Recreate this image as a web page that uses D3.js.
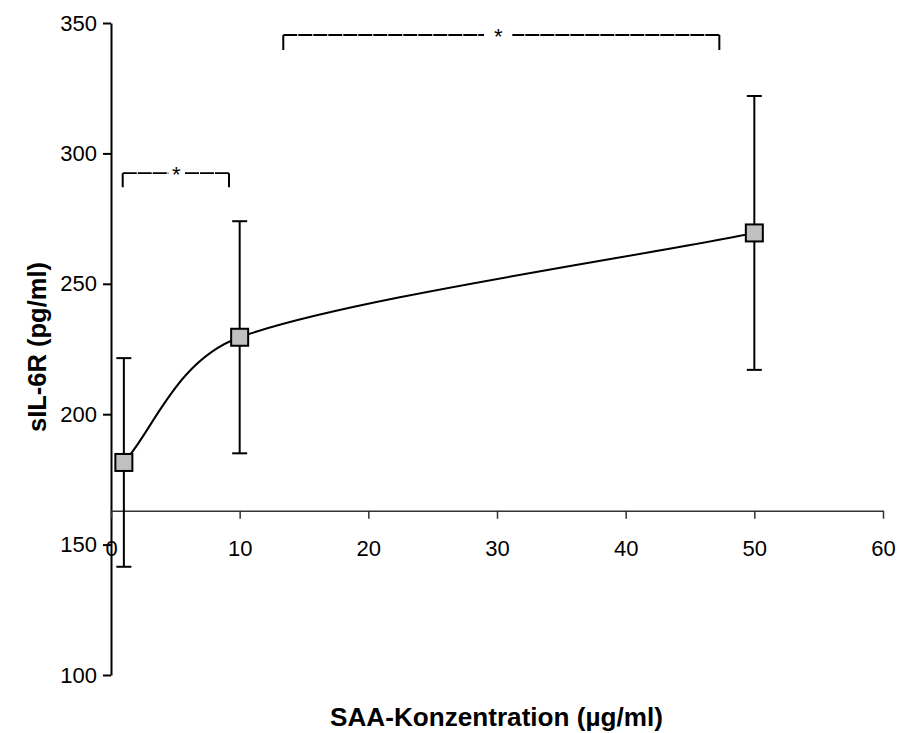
<!DOCTYPE html>
<html>
<head>
<meta charset="utf-8">
<script src="https://cdn.jsdelivr.net/npm/d3@7"></script>
<style>
  html, body { margin: 0; padding: 0; background: #fff; }
  svg text { font-family: "Liberation Sans", Arial, sans-serif; }
</style>
</head>
<body>
<svg id="chart" width="898" height="733"></svg>
<script>
// SAA concentration (µg/ml) vs. soluble IL-6 receptor release
const concentrations = [1, 10, 50];
const meanSIL6R = [181.5, 229.5, 269.5];
const sdSIL6R = [40, 44.5, 52.5];

const xTicks = [0, 10, 20, 30, 40, 50, 60];
const yTicks = [100, 150, 200, 250, 300, 350];
const xAxisCrossing = 163;

// significance brackets (x range, top and bottom of bracket, gap for the star)
const bracketFrom = [0.91, 13.39];
const bracketTo = [9.17, 47.28];
const bracketTop = [292.4, 345.4];
const bracketBottom = [287, 339.6];
const starGapFrom = [4.46, 28.99];
const starGapTo = [5.70, 31.19];
const bracketLabel = ["*", "*"];

const svg = d3.select("#chart");

const x = d3.scaleLinear().domain([0, 60]).range([111, 883]);
const y = d3.scaleLinear().domain([100, 350]).range([675, 23]);

// Spreadsheet-style smoothed curve: cubic Bézier segments whose inner
// control points follow the neighbour chord (1/6 rule), capped relative to
// the segment length; end segments aim a quarter of the way to the neighbour.
function smoothCurve(context) {
  let pts = [];
  return {
    areaStart() {}, areaEnd() {},
    lineStart() { pts = []; },
    point(px, py) { pts.push([+px, +py]); },
    lineEnd() {
      const n = pts.length;
      if (!n) return;
      context.moveTo(pts[0][0], pts[0][1]);
      if (n === 1) return;
      const tangent = i => {
        const a = pts[Math.max(0, i - 1)], b = pts[Math.min(n - 1, i + 1)];
        return [(b[0] - a[0]) / 6, (b[1] - a[1]) / 6];
      };
      const capTo = (v, len) => {
        const m = Math.hypot(v[0], v[1]);
        const k = m > len ? len / m : 1;
        return [v[0] * k, v[1] * k];
      };
      for (let i = 0; i < n - 1; i++) {
        const p0 = pts[i], p1 = pts[i + 1];
        const seg = Math.hypot(p1[0] - p0[0], p1[1] - p0[1]);
        let c1, c2;
        if (i === 0) {
          c1 = [p0[0] + (p1[0] - p0[0]) * 0.25, p0[1] + (p1[1] - p0[1]) * 0.25];
        } else {
          const t = capTo(tangent(i), seg * 0.4);
          c1 = [p0[0] + t[0], p0[1] + t[1]];
        }
        if (i === n - 2) {
          c2 = [p1[0] - (p1[0] - p0[0]) * 0.25, p1[1] - (p1[1] - p0[1]) * 0.25];
        } else {
          const t = capTo(tangent(i + 1), seg * 0.4);
          c2 = [p1[0] - t[0], p1[1] - t[1]];
        }
        context.bezierCurveTo(c1[0], c1[1], c2[0], c2[1], p1[0], p1[1]);
      }
    }
  };
}

// y axis
const yAxis = svg.append("g")
  .attr("transform", `translate(${x(0)},0)`)
  .call(d3.axisLeft(y).tickValues(yTicks).tickSize(8).tickSizeOuter(0).tickPadding(6));
yAxis.select(".domain").attr("stroke", "#000").attr("stroke-width", 2);
yAxis.selectAll(".tick line").attr("stroke", "#000").attr("stroke-width", 2);
yAxis.selectAll(".tick text").attr("font-size", 22).attr("fill", "#000");

// x axis, crossing the y axis at 163
const xAxis = svg.append("g")
  .attr("transform", `translate(0,${y(xAxisCrossing)})`)
  .call(d3.axisBottom(x).tickValues(xTicks).tickSize(8).tickSizeOuter(0).tickPadding(22));
xAxis.select(".domain").attr("stroke", "#333").attr("stroke-width", 1.5);
xAxis.selectAll(".tick line").attr("stroke", "#333").attr("stroke-width", 1.5);
xAxis.selectAll(".tick text").attr("font-size", 22).attr("fill", "#000");

// axis titles
svg.append("text")
  .attr("x", 496.5).attr("y", 726)
  .attr("text-anchor", "middle")
  .attr("font-size", 25).attr("font-weight", "bold")
  .attr("textLength", 333).attr("lengthAdjust", "spacingAndGlyphs")
  .text("SAA-Konzentration (µg/ml)");

svg.append("text")
  .attr("transform", `translate(46,347) rotate(-90)`)
  .attr("text-anchor", "middle")
  .attr("font-size", 25).attr("font-weight", "bold")
  .attr("textLength", 170).attr("lengthAdjust", "spacingAndGlyphs")
  .text("sIL-6R (pg/ml)");

const points = concentrations.map((c, i) => ({ c, m: meanSIL6R[i], sd: sdSIL6R[i] }));

// error bars
const eb = svg.append("g").attr("stroke", "#000").attr("stroke-width", 2);
points.forEach(p => {
  eb.append("line").attr("x1", x(p.c)).attr("x2", x(p.c))
    .attr("y1", y(p.m + p.sd)).attr("y2", y(p.m - p.sd));
  [p.m + p.sd, p.m - p.sd].forEach(v => {
    eb.append("line").attr("x1", x(p.c) - 7.5).attr("x2", x(p.c) + 7.5)
      .attr("y1", y(v)).attr("y2", y(v));
  });
});

// smoothed connecting line
const line = d3.line()
  .x(d => x(d.c)).y(d => y(d.m))
  .curve(smoothCurve);
svg.append("path").datum(points)
  .attr("d", line)
  .attr("fill", "none").attr("stroke", "#000").attr("stroke-width", 2);

// square markers
svg.append("g").selectAll("rect").data(points).join("rect")
  .attr("x", d => x(d.c) - 8.5).attr("y", d => y(d.m) - 8.5)
  .attr("width", 17).attr("height", 17)
  .attr("fill", "#c0c0c0").attr("stroke", "#000").attr("stroke-width", 2);

// significance brackets
const bg = svg.append("g");
bracketFrom.forEach((x0, i) => {
  const x1 = bracketTo[i];
  const yt = y(bracketTop[i]), yb = y(bracketBottom[i]);
  const g0 = x(starGapFrom[i]), g1 = x(starGapTo[i]);
  bg.append("path")
    .attr("d", `M${x(x0)},${yb}V${yt}M${x(x1)},${yb}V${yt}`)
    .attr("stroke", "#000").attr("stroke-width", 2).attr("fill", "none");
  bg.append("path")
    .attr("d", `M${x(x0)},${yt}H${g0}M${x(x1)},${yt}H${g1}`)
    .attr("stroke", "#000").attr("stroke-width", 1.8).attr("fill", "none")
    .attr("stroke-dasharray", "14,1");
  bg.append("text")
    .attr("x", (g0 + g1) / 2).attr("y", yt + 9)
    .attr("text-anchor", "middle")
    .attr("font-size", 22)
    .text(bracketLabel[i]);
});
</script>
</body>
</html>
